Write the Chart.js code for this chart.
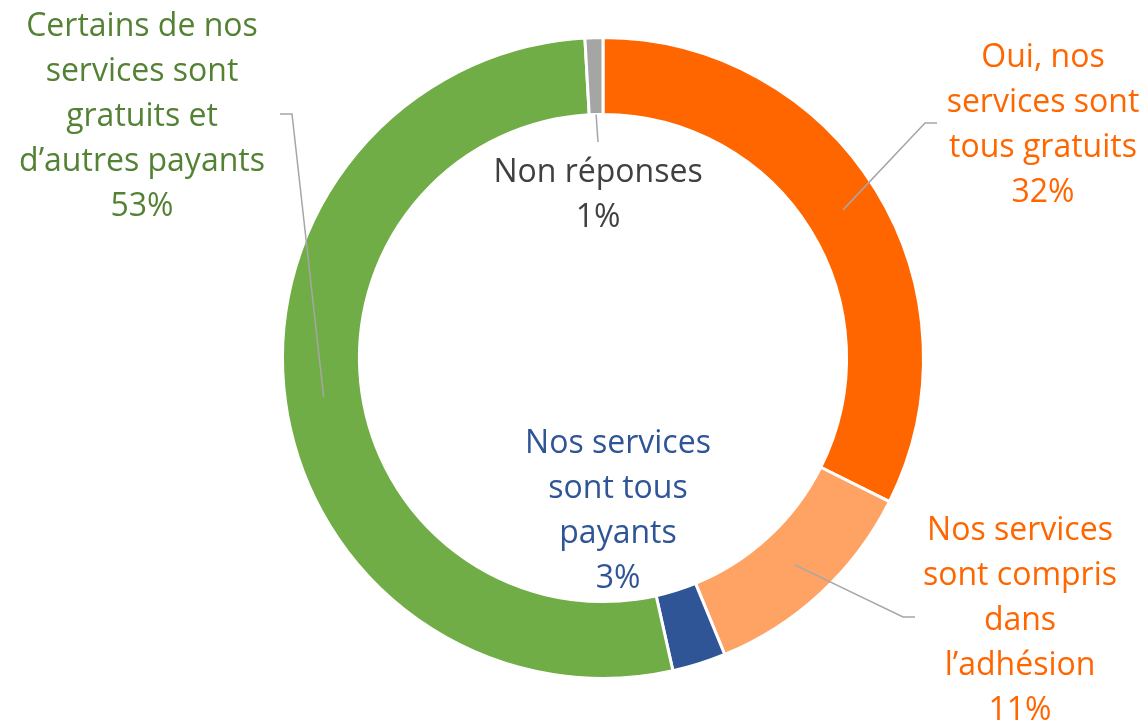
<!DOCTYPE html>
<html>
<head>
<meta charset="utf-8">
<script src="https://cdn.jsdelivr.net/npm/chart.js@4"></script>
<style>
  html, body { margin: 0; padding: 0; background: #ffffff; }
  #wrap { width: 1147px; height: 724px; position: relative; }
</style>
</head>
<body>
<div id="wrap"><canvas id="c" width="1147" height="724"></canvas></div>
<script>
// ---- Data ----
const categories = [
  "Oui, nos services sont tous gratuits",
  "Nos services sont compris dans l’adhésion",
  "Nos services sont tous payants",
  "Certains de nos services sont gratuits et d’autres payants",
  "Non réponses"
];
const values = [32.4, 11.4, 2.7, 52.6, 0.9];
const labelLines = [
  ["Oui, nos", "services sont", "tous gratuits"],
  ["Nos services", "sont compris", "dans", "l’adhésion"],
  ["Nos services", "sont tous", "payants"],
  ["Certains de nos", "services sont", "gratuits et", "d’autres payants"],
  ["Non réponses"]
];
const sliceColors = ["#FF6600", "#FFA365", "#2F5597", "#70AD47", "#A5A5A5"];
const textColors = ["#FF6600", "#FF6600", "#2F5597", "#548235", "#404040"];

// ---- Label layout (annotation placement) ----
const FONT = "32px 'Open Sans', Lato, sans-serif";
const LINE_H = 45;
const labelLayout = [
  { cx: 1043, y0: 67,  anchor: "mid",   elbow: [925, 123], end: [937, 123] },
  { cx: 1020, y0: 540, anchor: "mid",   elbow: [903, 617], end: [915, 617] },
  { cx: 618,  y0: 453, anchor: null },
  { cx: 142,  y0: 36,  anchor: "mid",   elbow: [292, 114], end: [280, 114] },
  { cx: 598,  y0: 182, anchor: "inner", elbow: null, end: [598, 142] }
];

const labelPlugin = {
  id: "labelPlugin",
  afterDatasetsDraw(chart) {
    const ctx = chart.ctx;
    const meta = chart.getDatasetMeta(0);
    ctx.save();
    meta.data.forEach((arc, i) => {
      const L = labelLayout[i];
      const p = arc.getProps(["x", "y", "startAngle", "endAngle", "innerRadius", "outerRadius"], true);
      if (L.anchor) {
        const mid = (p.startAngle + p.endAngle) / 2;
        const r = L.anchor === "inner" ? p.innerRadius : (p.innerRadius + p.outerRadius) / 2;
        const ax = p.x + r * Math.cos(mid);
        const ay = p.y + r * Math.sin(mid);
        ctx.beginPath();
        ctx.strokeStyle = "#A6A6A6";
        ctx.lineWidth = 1.5;
        ctx.moveTo(ax, ay);
        if (L.elbow) ctx.lineTo(L.elbow[0], L.elbow[1]);
        ctx.lineTo(L.end[0], L.end[1]);
        ctx.stroke();
      }
      ctx.font = FONT;
      ctx.fillStyle = textColors[i];
      ctx.textAlign = "center";
      ctx.textBaseline = "alphabetic";
      const lines = labelLines[i].concat([Math.round(values[i]) + "%"]);
      lines.forEach((t, k) => ctx.fillText(t, L.cx, L.y0 + k * LINE_H));
    });
    ctx.restore();
  }
};

new Chart(document.getElementById("c"), {
  type: "doughnut",
  data: {
    labels: categories,
    datasets: [{
      data: values,
      backgroundColor: sliceColors,
      borderColor: "#FFFFFF",
      borderWidth: 3
    }]
  },
  options: {
    responsive: false,
    animation: false,
    cutout: "76%",
    layout: { padding: { top: 36, bottom: 44, left: 59, right: 0 } },
    plugins: { legend: { display: false }, tooltip: { enabled: false } }
  },
  plugins: [labelPlugin]
});
</script>
</body>
</html>
